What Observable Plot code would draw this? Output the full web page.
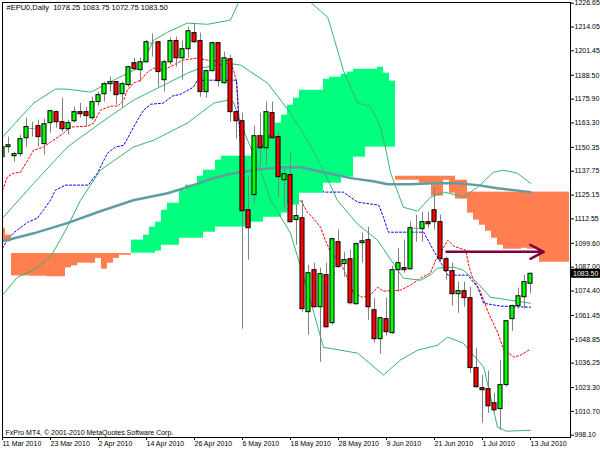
<!DOCTYPE html>
<html><head><meta charset="utf-8">
<script src="https://cdn.jsdelivr.net/npm/d3@7"></script>
<script src="https://cdn.jsdelivr.net/npm/@observablehq/plot@0.6"></script>
<style>
body{margin:0;background:#fff;}
#chart svg{display:block;}
</style>
</head><body><div id="chart"></div>
<script>
const symbol = "#EPU0,Daily";
const copyright = "FxPro MT4, \u00a9 2001-2010 MetaQuotes Software Corp.";

// Daily candles, bar 0 = 11 Mar 2010 ... bar 88 = 13 Jul 2010
const opens  = [1145.2,1150.5,1145.7,1146.8,1155.2,1160.4,1161.6,1152.1,1163.2,1169.0,1163.7,1160.0,1164.2,1169.0,1169.0,1165.8,1174.3,1178.5,1183.8,1184.9,1178.5,1183.3,1194.9,1191.2,1195.4,1205.5,1206.0,1185.9,1195.4,1206.6,1197.5,1202.3,1210.8,1206.6,1179.6,1190.7,1205.5,1184.3,1197.0,1169.0,1164.2,1117.1,1125.1,1156.3,1149.9,1168.5,1155.8,1133.0,1135.7,1111.9,1112.9,1063.2,1085.4,1065.8,1082.8,1057.4,1100.2,1088.6,1091.2,1067.4,1099.7,1101.3,1064.2,1048.9,1059.5,1052.1,1085.4,1086.5,1085.9,1107.6,1107.1,1110.8,1117.1,1110.8,1091.2,1084.9,1072.7,1074.3,1070.6,1033.6,1023.0,1022.5,1015.0,1011.9,1024.6,1059.5,1066.4,1071.1,1078.25];
const highs  = [1154.2,1155.8,1147.8,1156.8,1165.8,1163.7,1164.8,1165.3,1170.0,1169.5,1176.4,1164.8,1171.6,1173.7,1171.6,1176.9,1179.6,1184.9,1187.5,1185.4,1184.9,1193.3,1197.5,1197.5,1207.1,1210.3,1206.6,1196.5,1208.1,1208.7,1206.6,1213.9,1216.1,1210.8,1191.2,1206.0,1206.0,1200.7,1199.1,1169.5,1168.5,1134.6,1161.6,1168.5,1174.3,1174.3,1158.4,1139.4,1147.3,1119.8,1122.4,1088.0,1089.1,1086.5,1089.1,1102.3,1106.6,1094.9,1096.0,1099.7,1105.0,1108.1,1070.6,1060.5,1070.6,1087.5,1097.0,1101.3,1110.8,1114.5,1116.1,1116.1,1129.3,1114.5,1092.3,1089.1,1079.1,1079.1,1076.4,1044.1,1029.9,1032.0,1020.3,1037.8,1058.9,1066.9,1075.9,1082.8,1083.75];
const lows   = [1142.5,1147.3,1142.5,1145.2,1150.5,1155.8,1150.5,1146.2,1157.9,1160.5,1158.4,1156.8,1163.2,1165.8,1161.1,1164.8,1172.2,1174.3,1179.6,1172.7,1171.1,1182.2,1191.2,1184.9,1194.9,1198.1,1182.2,1179.6,1193.9,1192.8,1185.9,1197.5,1205.5,1176.9,1176.4,1190.2,1182.2,1183.8,1163.7,1154.7,1054.2,1090.7,1120.8,1139.9,1140.4,1154.7,1123.5,1118.2,1110.2,1098.6,1063.2,1051.0,1065.3,1036.7,1054.7,1056.3,1086.5,1081.7,1066.9,1066.9,1089.1,1058.9,1046.8,1040.9,1050.5,1051.5,1073.8,1083.8,1085.4,1100.2,1100.2,1107.6,1106.6,1089.6,1080.1,1066.4,1062.6,1065.8,1030.9,1023.0,1004.5,1009.7,1010.3,1000.7,1023.5,1053.1,1064.8,1064.8,1072.75];
const closes = [1150.5,1151.5,1146.8,1154.7,1161.1,1160.6,1155.8,1162.6,1169.5,1163.7,1160.0,1163.2,1169.0,1167.9,1166.9,1174.3,1178.0,1183.8,1184.9,1178.0,1183.8,1192.8,1191.7,1195.4,1206.0,1205.6,1190.2,1195.4,1206.6,1197.5,1202.3,1211.8,1206.0,1179.6,1190.7,1205.5,1185.4,1197.5,1169.0,1164.2,1116.6,1107.6,1156.3,1149.9,1169.0,1155.2,1134.6,1136.2,1110.8,1114.0,1064.8,1083.8,1065.8,1083.3,1055.2,1101.8,1087.0,1090.7,1067.9,1099.2,1100.7,1065.8,1048.9,1060.0,1052.6,1085.4,1089.1,1085.4,1107.6,1107.7,1110.8,1109.7,1110.8,1091.2,1084.9,1072.7,1074.3,1070.6,1033.6,1023.5,1021.9,1013.4,1011.3,1024.6,1058.4,1066.4,1071.6,1079.1,1083.50];

// axis ticks
const xTickBars = [0,8,16,24,32,40,48,56,64,72,80,88];
const xTickLabels = ["11 Mar 2010","23 Mar 2010","2 Apr 2010","14 Apr 2010","26 Apr 2010","6 May 2010","18 May 2010","28 May 2010","9 Jun 2010","21 Jun 2010","1 Jul 2010","13 Jul 2010"];
const yTickValues = [1226.65,1214.05,1201.45,1188.50,1175.90,1163.30,1150.35,1137.75,1125.15,1112.55,1099.60,1087.00,1074.40,1061.45,1048.85,1036.25,1023.30,1010.70,998.10];

// Ichimoku cloud spans per bar (bars 0..94)
const spanA = [1100.4,1100.4,1082.4,1082.4,1082.4,1082.2,1082.2,1082.2,1081.9,1081.9,1081.9,1086.6,1087.7,1089.1,1089.1,1089.1,1091.6,1085.9,1089.1,1091.6,1093.3,1093.3,
  1101.3,1101.3,1103.9,1108.2,1110.8,1117.1,1120.8,1120.8,1127.7,1130.4,1130.4,1135.1,1138.3,1138.3,1143.6,1145.7,1145.7,1145.7,1145.7,1145.7,1148.9,1151.5,1156.8,1156.8,1163.2,1167.4,1172.7,1176.4,1180.6,1180.6,1180.6,1180.6,1186.4,1187.5,1187.5,1189.1,1190.2,1191.7,1191.7,1191.7,1191.7,1192.8,1189.6,1185.4,
  1133.0,1133.0,1133.0,1133.0,1131.4,1131.4,1124.6,1124.6,1133.0,1126.1,1123.0,1123.0,1115.6,1111.9,1109.2,1106.0,1102.3,1098.6,1096.5,1096.5,1096.5,1097.0,1096.5,1096.5,1089.6,1089.6,1089.6,1089.6,1089.6];
const spanB = [1107.6,1103.9,1094.2,1094.2,1094.2,1094.2,1094.2,1094.2,1094.2,1094.2,1094.2,1094.2,1094.2,1094.2,1094.2,1094.2,1094.2,1094.2,1094.2,1094.2,1094.2,1094.2,
  1094.4,1094.4,1094.4,1094.4,1095.5,1098.6,1098.6,1098.6,1102.3,1102.3,1102.3,1102.3,1105.5,1105.5,1108.2,1108.2,1108.2,1108.2,1108.2,1108.2,1110.8,1110.8,1113.4,1113.4,1113.4,1115.6,1119.8,1119.8,1126.1,1126.1,1126.1,1126.1,1131.4,1131.4,1131.4,1134.6,1134.6,1145.2,1145.2,1150.5,1150.5,1150.5,1150.5,1150.5,
  1135.1,1135.1,1135.1,1135.1,1135.1,1135.1,1135.1,1135.1,1135.1,1135.1,1133.0,1133.0,1126.7,1126.7,1126.7,1126.7,1126.7,1126.7,1126.7,1126.7,1126.7,1126.7,1126.7,1126.7,1126.7,1126.7,1126.7,1126.7,1126.7];

// indicator lines: [bar, price]
const tenkan = [[0,1127.7],[0.8,1134.6],[1.8,1136.7],[3,1137.2],[4.2,1143.6],[5.2,1148.9],[6.8,1150.5],[8,1153.1],[10.2,1157.9],[11.3,1161.1],[14.2,1161.6],[15.2,1163.2],[16.3,1170.0],[18,1172.2],[19.2,1172.2],[20.2,1175.3],[20.8,1180.6],[21.8,1184.3],[23,1185.9],[24.2,1190.2],[25.2,1192.3],[26.8,1191.2],[28.5,1193.9],[30,1196.5],[32.5,1197.6],[34.2,1196.5],[35.8,1196.0],[38,1196.5],[39,1185.4],[40,1135.1],[41,1132.5],[42,1129.9],[45,1127.2],[46,1126.7],[47,1116.1],[48,1119.8],[49.7,1122.4],[50.8,1116.1],[51.8,1112.9],[53,1108.2],[53.8,1101.3],[54.7,1094.9],[56.3,1089.6],[57.5,1081.2],[58.5,1073.2],[60,1071.1],[61.3,1072.2],[62.5,1076.4],[63.5,1074.3],[66.3,1074.8],[68,1077.5],[69.7,1081.2],[71.3,1083.8],[72.2,1090.7],[73,1094.4],[74.2,1101.3],[75.2,1098.1],[77.2,1096.0],[77.7,1088.1],[78.3,1081.7],[79.7,1073.8],[81,1062.7],[82.5,1052.6],[83.5,1043.6],[85.2,1039.4],[86.3,1040.4],[88,1043.6]];
const kijun = [[0,1097.0],[0.8,1101.3],[1.8,1105.0],[4.2,1110.8],[5.8,1112.9],[6.8,1117.1],[8,1122.4],[8.8,1127.7],[10.5,1130.4],[14.3,1130.4],[15.8,1136.7],[17.5,1147.3],[18.8,1150.5],[20.2,1151.5],[21.3,1157.9],[22.5,1164.8],[23.5,1170.0],[24.7,1173.2],[26.8,1173.8],[28.3,1177.5],[29.7,1178.5],[31.8,1182.2],[32.5,1185.9],[39,1185.9],[40,1135.1],[52.2,1135.1],[53.5,1126.7],[56.8,1126.7],[58,1124.0],[59.2,1121.4],[62.7,1119.8],[63.5,1113.4],[64.3,1105.5],[70.2,1105.5],[71.8,1096.0],[73.5,1087.0],[74.2,1082.8],[77.5,1082.8],[79.2,1076.4],[80.2,1067.9],[83,1066.4],[88,1065.8]];
const ma200 = [[0,1100.7],[5.2,1104.9],[10.8,1110.3],[16.3,1116.6],[21.8,1122.4],[27.5,1126.1],[30.8,1129.3],[35.2,1134.1],[38.5,1136.7],[41.8,1138.3],[46.3,1139.9],[49.7,1139.9],[53.5,1137.2],[58,1134.1],[61.8,1132.5],[64.2,1130.9],[68,1130.9],[71.8,1131.4],[75.8,1131.4],[79.2,1130.4],[82.5,1128.8],[88,1126.7]];
const bbUpper = [[0,1155.8],[3,1166.3],[5.2,1173.8],[8.8,1181.2],[10.8,1181.2],[14.7,1179.6],[16.3,1182.2],[19.2,1187.0],[23,1192.8],[25.2,1207.1],[27.5,1211.3],[30.8,1216.1],[34.2,1215.5],[38,1217.7],[39.3,1226.7],[41.3,1249],[48,1249],[51.3,1227.2],[54.2,1219.2],[55.2,1208.7],[56.8,1191.2],[59.2,1173.8],[61.3,1172.2],[63,1161.0],[63.8,1150.5],[64.7,1136.7],[66.8,1118.7],[69.2,1116.6],[71.3,1124.0],[73.5,1126.7],[75.8,1125.1],[76.8,1124.0],[79.2,1129.3],[81.8,1137.2],[83.5,1138.3],[85.8,1136.7],[88,1131.4]];
const bbMiddle = [[0,1112.9],[5.2,1131.4],[10.8,1150.5],[16.3,1163.2],[21.8,1175.3],[27.5,1184.3],[30.8,1189.6],[33,1192.3],[37.5,1194.9],[39.7,1193.9],[44.2,1184.3],[48,1168.5],[50.8,1154.2],[53.5,1138.3],[55.8,1122.4],[59.2,1109.7],[62.5,1101.3],[66.8,1081.2],[69.7,1080.1],[71.3,1082.8],[72.5,1086.5],[75.2,1087.0],[76.8,1085.4],[79.2,1078.5],[81.3,1071.1],[84.7,1069.5],[88,1067.9]];
const bbLower = [[0,1072.2],[2.5,1081.7],[5.2,1085.4],[8,1092.3],[10.8,1108.2],[13,1122.4],[16.3,1138.3],[21.8,1150.5],[25.2,1154.2],[30.8,1163.2],[35.2,1173.8],[37.5,1175.3],[38.5,1174.3],[40.5,1156.8],[43,1138.3],[44.7,1122.4],[48,1105.0],[49.7,1087.0],[51.3,1069.5],[53.5,1044.6],[56.3,1043.1],[59.2,1041.5],[63.5,1029.9],[66.3,1037.8],[69.2,1043.1],[72.5,1045.7],[74.2,1050.0],[76.8,1046.8],[80.2,1034.1],[82.5,1002.3],[84,1000.2],[88,1000.7]];

const arrowLine = {from: 74, to: 90.2, price: 1095.1};

// ---- build ----
const candles = opens.map((o, i) => ({i, o, h: highs[i], l: lows[i], c: closes[i]}));
const bodies = candles.filter(d => Math.abs(d.c - d.o) >= 0.3);
const dojis = candles.filter(d => Math.abs(d.c - d.o) < 0.3);
const kumo = spanA.map((a, i) => ({i, a, b: spanB[i]}));
const labelMap = new Map(xTickBars.map((b, k) => [b, xTickLabels[k]]));
const last = candles[candles.length - 1];
const header = `${symbol}  ${last.o.toFixed(2)} ${last.h.toFixed(2)} ${last.l.toFixed(2)} ${last.c.toFixed(2)}`;
const font = "'Liberation Sans', Arial, sans-serif";
const P = d => d[0], V = d => d[1];

const chart = Plot.plot({
  width: 600, height: 450,
  marginLeft: 2, marginRight: 30, marginTop: 2, marginBottom: 13,
  style: {fontFamily: font, fontSize: "7px", background: "#fff", color: "#000"},
  x: {type: "linear", domain: [0, 94.667], label: null},
  y: {domain: [996.88, 1227.02], label: null},
  marks: [
    Plot.line(tenkan, {x: P, y: V, stroke: "#ff0000", strokeWidth: 1, strokeDasharray: "2,2", clip: true}),
    Plot.line(kijun, {x: P, y: V, stroke: "#0000ff", strokeWidth: 1, strokeDasharray: "2,2", clip: true}),
    Plot.rect(kumo, {x1: d => d.i - 0.5, x2: d => d.i + 0.5, y1: "a", y2: "b",
      fill: d => d.a >= d.b ? "#00ff7f" : "#ff7f50", clip: true}),
    Plot.line(bbUpper, {x: P, y: V, stroke: "#3cb371", strokeWidth: 1, clip: true}),
    Plot.line(bbMiddle, {x: P, y: V, stroke: "#3cb371", strokeWidth: 1, clip: true}),
    Plot.line(bbLower, {x: P, y: V, stroke: "#3cb371", strokeWidth: 1, clip: true}),
    Plot.line(ma200, {x: P, y: V, stroke: "#5f9ea0", strokeWidth: 2.5, clip: true}),
    Plot.ruleX(candles, {x: "i", y1: "l", y2: "h", stroke: "#808080", strokeWidth: 1, clip: true}),
    Plot.rect(bodies, {x1: d => d.i - 0.34, x2: d => d.i + 0.34, y1: "o", y2: "c",
      fill: d => d.c >= d.o ? "#00ff00" : "#ff0000", stroke: "#000", strokeWidth: 1, clip: true}),
    Plot.ruleY(dojis, {y: "o", x1: d => d.i - 0.4, x2: d => d.i + 0.4, stroke: "#808080", strokeWidth: 1, clip: true}),
    Plot.arrow([arrowLine], {x1: "from", x2: "to", y1: "price", y2: "price",
      stroke: "#800040", strokeWidth: 2.5, headLength: 9, headAngle: 55}),
    Plot.frame({stroke: "#000", strokeWidth: 1}),
    Plot.axisY(yTickValues, {anchor: "right", tickSize: 3, tickPadding: 1,
      tickFormat: d => d.toFixed(2), fontSize: 7, fill: "#000"}),
    Plot.axisX(xTickBars, {anchor: "bottom", tickSize: 3, tickPadding: 1,
      tickFormat: d => labelMap.get(d), textAnchor: "start", dx: 0, fontSize: 7, fill: "#000"}),
    Plot.text([header], {frameAnchor: "top-left", text: d => d, dx: 4, dy: 2, fontSize: 7.5, fill: "#000"}),
    Plot.text([copyright], {frameAnchor: "bottom-left", text: d => d, dx: 3, dy: -3, fontSize: 7, fill: "#000"})
  ]
});

// current price label box on the price axis
const ys = chart.scale("y");
const yy = ys.apply(last.c);
const svg = d3.select(chart);
svg.append("rect").attr("x", 571).attr("y", yy - 4.5).attr("width", 29).attr("height", 9).attr("fill", "#000");
svg.append("text").attr("x", 573).attr("y", yy).attr("dy", "0.35em")
  .attr("text-anchor", "start")
  .attr("font-family", font).attr("font-size", 7).attr("fill", "#fff").text(last.c.toFixed(2));

document.getElementById("chart").appendChild(chart);
</script>
</body></html>
